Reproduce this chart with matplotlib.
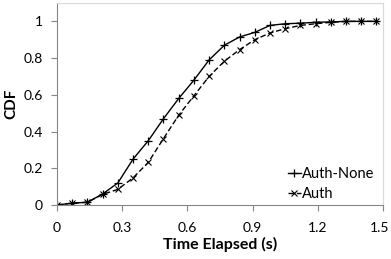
import matplotlib
matplotlib.use("Agg")
import matplotlib.pyplot as plt
from matplotlib.transforms import ScaledTranslation

x = [0, 0.07, 0.14, 0.21, 0.28, 0.35, 0.42, 0.49, 0.56, 0.63, 0.70, 0.77,
     0.84, 0.91, 0.98, 1.05, 1.12, 1.19, 1.26, 1.33, 1.40, 1.47]
auth_none = [0, 0.01, 0.015, 0.06, 0.12, 0.25, 0.35, 0.47, 0.58, 0.68, 0.79, 0.87,
             0.915, 0.94, 0.978, 0.987, 0.99, 0.995, 0.997, 1.0, 1.0, 1.0]
auth = [0, 0.01, 0.015, 0.058, 0.085, 0.148, 0.232, 0.362, 0.489, 0.595, 0.70, 0.783,
        0.846, 0.90, 0.937, 0.96, 0.978, 0.987, 0.995, 1.0, 1.0, 1.0]
xticks = [0, 0.3, 0.6, 0.9, 1.2, 1.5]
xticklabels = ["0", "0.3", "0.6", "0.9", "1.2", "1.5"]
yticks = [0, 0.2, 0.4, 0.6, 0.8, 1.0]
yticklabels = ["0", "0.2", "0.4", "0.6", "0.8", "1"]

plt.rcParams['font.family'] = ['Lato', 'DejaVu Sans']

fig = plt.figure(figsize=(3.91, 2.59), dpi=100)
ax = fig.add_axes([57/391, 1 - 205/259, (383 - 57)/391, (205 - 3)/259])

ax.plot(x, auth_none, color='black', lw=1.0, marker='+', ms=6, mew=0.9,
        label='Auth-None')
ax.plot(x, auth, color='black', lw=1.0, ls=(0, (4, 2)), marker='x', ms=5, mew=0.8,
        label='Auth')

ax.set_xlim(0, 1.5)
ax.set_ylim(0, 1.1)
ax.set_xticks(xticks)
ax.set_xticklabels(xticklabels)
ax.set_yticks(yticks)
ax.set_yticklabels(yticklabels)
ax.tick_params(axis='both', labelsize=10, colors='#868686', labelcolor='black',
               direction='out', length=4, width=0.8)
ax.tick_params(axis='x', pad=8)
ax.tick_params(axis='y', pad=6)

last = ax.get_xticklabels()[-1]
last.set_transform(last.get_transform() + ScaledTranslation(-3/100, 0, fig.dpi_scale_trans))

for side in ['top', 'right']:
    ax.spines[side].set_color('#d9d9d9')
    ax.spines[side].set_linewidth(0.8)
for side in ['left', 'bottom']:
    ax.spines[side].set_color('#868686')
    ax.spines[side].set_linewidth(0.8)

ax.set_xlabel('Time Elapsed (s)', fontsize=11.5, fontweight='bold', labelpad=2)
ax.set_ylabel('CDF', fontsize=11, fontweight='bold', labelpad=4)

leg = ax.legend(loc='lower right', frameon=False, fontsize=10.5, handlelength=0.9,
                handletextpad=0.1, labelspacing=0.45, borderaxespad=0.0,
                bbox_to_anchor=(0.985, 0.0), borderpad=0.25)

fig.savefig('out.png', dpi=100)
